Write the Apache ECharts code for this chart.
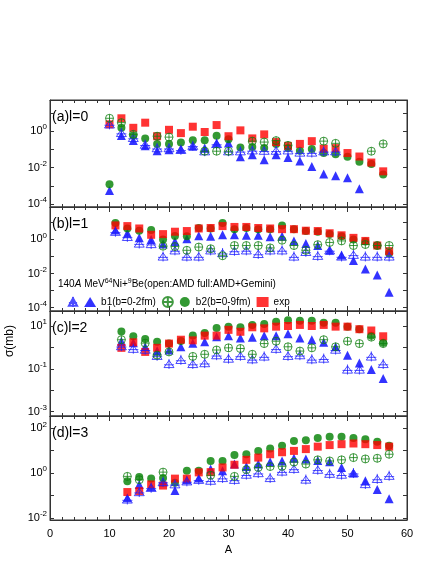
<!DOCTYPE html>
<html>
<head>
<meta charset="utf-8">
<script src="https://cdn.jsdelivr.net/npm/echarts@6/dist/echarts.min.js"></script>
<style>
  html, body { margin: 0; padding: 0; background: #fff; }
  #main { width: 436px; height: 564px; }
</style>
</head>
<body>
<div id="main"></div>
<script>
// values are log10(sigma / mb)
var massA0 = [10, 12, 14, 16, 18, 20, 22, 24, 26, 28, 30, 32, 34, 36, 38, 40, 42, 44, 46, 48, 50, 52, 54, 56];
var amdB1_0 = [0.37, -0.1, -0.37, -0.74, -0.93, -0.93, -1.02, -0.8, -1.1, -0.7, -1.1, -1.1, -1.05, -1.07, -1.07, -1.05, -1.17, -1.17, -1.1, -1.1, null, null, null, null];
var gemB1_0 = [-3.25, -0.24, -0.52, -0.8, -1.07, -1.02, -0.98, -0.83, -0.93, -0.65, -0.65, -1.4, -1.3, -1.57, -1.3, -1.45, -1.63, -1.94, -2.35, -2.44, -2.55, -3.15, null, null];
var amdB2_0 = [0.7, 0.46, -0.18, null, -0.28, -0.33, null, null, -1.1, -1.1, -1.1, null, -0.55, -0.6, -0.52, -0.78, null, null, -0.55, -0.67, null, null, -1.1, -0.7];
var gemB2_0 = [-2.9, 0.18, -0.24, -0.4, -0.7, -0.7, -0.63, -0.5, -0.5, -0.26, -0.45, -0.9, -0.87, -0.93, -0.7, -0.93, -1.07, -0.98, -1.2, -1.26, -1.4, -1.67, -1.8, -2.37];
var exp_0 = [0.37, 0.7, 0.18, 0.46, -0.28, 0.07, -0.11, 0.24, -0.05, 0.33, -0.28, 0.04, -0.4, -0.18, -0.6, -0.81, -0.7, -0.55, -0.96, -0.93, -1.2, -1.39, -1.72, -2.2];

var massA1 = [11, 13, 15, 17, 19, 21, 23, 25, 27, 29, 31, 33, 35, 37, 39, 41, 43, 45, 47, 49, 51, 53, 55, 57];
var amdB1_1 = [0.45, 0.15, -0.24, -0.27, -1.0, -0.64, -1.0, -1.0, -0.64, -0.8, -0.67, -0.64, -0.85, -0.64, -0.64, -1.0, -0.73, -0.96, -0.64, -1.0, -0.9, -1.0, -1.0, -1.0];
var gemB1_1 = [0.55, 0.36, 0.09, 0.0, -0.27, -0.13, 0.04, 0.22, 0.18, 0.27, 0.27, 0.24, 0.24, 0.15, 0.18, -0.09, -0.24, -0.36, -0.64, -0.91, -1.24, -1.73, -2.09, -3.1];
var amdB2_1 = [null, null, null, null, -0.4, -0.42, -0.64, -0.45, -0.55, -0.96, -0.36, -0.36, -0.36, -0.5, -0.05, -0.36, -0.64, -0.31, -0.18, -0.09, -0.36, -0.3, -0.36, -0.36];
var gemB2_1 = [0.96, 0.64, 0.5, 0.55, 0.0, 0.2, 0.18, 0.67, 0.64, 0.96, 0.6, 0.67, 0.6, 0.6, 0.82, 0.6, 0.49, 0.45, 0.31, 0.18, 0.0, -0.13, -0.36, -0.82];
var exp_1 = [0.82, 0.78, 0.64, 0.27, 0.31, 0.45, 0.49, 0.64, 0.67, 0.78, 0.73, 0.73, 0.67, 0.64, 0.6, 0.6, 0.51, 0.49, 0.36, 0.24, 0.09, -0.09, -0.36, -0.69];

var massA2 = [12, 14, 16, 18, 20, 22, 24, 26, 28, 30, 32, 34, 36, 38, 40, 42, 44, 46, 48, 50, 52, 54, 56];
var amdB1_2 = [0.06, -0.06, -0.1, -0.39, -0.77, -0.58, -0.77, -0.73, -0.36, -0.52, -0.39, -0.55, -0.42, -0.06, -0.39, -0.36, -0.55, -0.52, -0.1, -1.03, -1.03, -0.42, -0.77];
var gemB1_2 = [0.29, 0.22, 0.03, -0.15, -0.12, 0.03, 0.2, 0.26, 0.5, 0.55, 0.44, 0.48, 0.55, 0.55, 0.64, 0.44, 0.36, 0.24, 0.03, -0.36, -0.73, -1.03, -1.45];
var amdB2_2 = [0.36, null, 0.2, -0.36, -0.21, null, -0.42, -0.32, -0.12, -0.02, -0.05, -0.32, 0.18, 0.29, 0.03, -0.17, -0.02, 0.36, 0.03, 0.29, 0.18, 0.48, 0.18];
var gemB2_2 = [0.74, 0.52, 0.39, 0.26, 0.18, 0.3, 0.56, 0.67, 0.91, 0.97, 0.94, 1.05, 1.09, 1.2, 1.27, 1.24, 1.24, 1.15, 1.15, 0.97, 0.85, 0.55, 0.22];
var exp_2 = [-0.02, 0.24, -0.21, -0.02, 0.18, 0.36, 0.33, 0.55, 0.55, 0.82, 0.73, 0.94, 0.89, 0.97, 1.0, 1.05, 1.0, 1.05, 0.97, 0.97, 0.85, 0.79, 0.52];

var massA3 = [13, 15, 17, 19, 21, 23, 25, 27, 29, 31, 33, 35, 37, 39, 41, 43, 45, 47, 49, 51, 53, 55, 57];
var amdB1_3 = [-1.18, -0.85, -0.66, -0.4, -0.5, -0.37, -0.3, -0.34, -0.22, -0.3, -0.07, 0.0, -0.22, 0.07, 0.19, -0.29, 0.15, -0.03, -0.07, 0.0, -0.49, -0.26, -0.12];
var gemB1_3 = [-1.1, -0.51, -0.6, -0.4, -0.78, -0.3, -0.22, 0.18, 0.1, 0.4, 0.29, 0.4, 0.51, 0.54, 0.66, 0.63, 0.56, 0.51, 0.25, 0.0, -0.34, -0.74, -1.15];
var amdB2_3 = [-0.15, -0.3, null, 0.04, null, null, null, -0.1, null, -0.15, 0.15, 0.25, 0.29, 0.3, 0.49, 0.4, 0.59, 0.54, 0.59, 0.69, 0.63, 0.66, 0.84];
var gemB2_3 = [-0.37, -0.18, -0.25, -0.22, -0.44, 0.1, 0.1, 0.54, 0.54, 0.81, 0.84, 0.99, 1.1, 1.22, 1.43, 1.47, 1.57, 1.62, 1.62, 1.57, 1.51, 1.4, 1.22];
var exp_3 = [-0.85, -0.81, -0.51, -0.56, -0.25, -0.25, 0.03, 0.04, 0.25, 0.37, 0.59, 0.69, 0.84, 0.93, 0.99, 1.07, 1.18, 1.25, 1.29, 1.32, 1.29, 1.25, 1.18];

var panelLabels = ['(a)l=0', '(b)l=1', '(c)l=2', '(d)l=3'];
var yRanges = [[-4.15, 1.7], [-4.2, 1.9], [-3.2, 1.7], [-2.1, 2.55]];
var yMajors = [[-4, -2, 0], [-4, -2, 0], [-3, -1, 1], [-2, 0, 2]];
var gridTops = [100, 207, 311, 416];
var gridHeights = [107, 104, 105, 104];

var panels = [
  [massA0, amdB1_0, gemB1_0, amdB2_0, gemB2_0, exp_0],
  [massA1, amdB1_1, gemB1_1, amdB2_1, gemB2_1, exp_1],
  [massA2, amdB1_2, gemB1_2, amdB2_2, gemB2_2, exp_2],
  [massA3, amdB1_3, gemB1_3, amdB2_3, gemB2_3, exp_3]
];

var triPlus = 'path://M0,-10 L9,6 L-9,6 Z M0,-13 L0,9 M-9,0 L9,0';
var circPlus = 'path://M10,0 A10,10 0 1,1 -10,0 A10,10 0 1,1 10,0 Z M0,-10 L0,10 M-10,0 L10,0';
var styles = [
  { name: 'amd1', symbol: triPlus, size: 10, item: { color: 'rgba(0,0,0,0)', borderColor: '#1f1fff', borderWidth: 1 } },
  { name: 'b1(b=0-2fm)', symbol: 'triangle', size: 9, item: { color: '#0000ff' } },
  { name: 'amd2', symbol: circPlus, size: 8, item: { color: 'rgba(0,0,0,0)', borderColor: '#108010', borderWidth: 1 } },
  { name: 'b2(b=0-9fm)', symbol: 'circle', size: 8, item: { color: '#008000' } },
  { name: 'exp', symbol: 'rect', size: 8, item: { color: '#ff0000' } }
];

function pairs(xs, ys) {
  var res = [];
  for (var i = 0; i < xs.length; i++) {
    if (ys[i] !== null && ys[i] !== undefined) res.push([xs[i], ys[i]]);
  }
  return res;
}

var grid = [], xAxis = [], yAxis = [], series = [], graphic = [];
for (var p = 0; p < 4; p++) {
  grid.push({ left: 50, right: 29, top: gridTops[p], height: gridHeights[p],
    show: true, borderColor: '#333', borderWidth: 1, backgroundColor: '#fff' });
  var last = p === 3;
  xAxis.push({
    type: 'value', gridIndex: p, min: 0, max: 60, interval: 10, position: 'bottom',
    name: last ? 'A' : '', nameLocation: 'middle', nameGap: 24,
    nameTextStyle: { fontSize: 11, color: '#000', fontFamily: 'Liberation Sans' },
    axisLine: { onZero: false, lineStyle: { color: '#333' } },
    axisTick: { inside: true, length: 5, lineStyle: { color: '#333' } },
    minorTick: { show: true, splitNumber: 5, length: 3, lineStyle: { color: '#333' } },
    axisLabel: { show: last, color: '#000', fontSize: 11, fontFamily: 'Liberation Sans' },
    splitLine: { show: false }
  });
  xAxis.push({
    type: 'value', gridIndex: p, min: 0, max: 60, interval: 10, position: 'top',
    axisLine: { onZero: false, lineStyle: { color: '#333' } },
    axisTick: { inside: true, length: 5, lineStyle: { color: '#333' } },
    minorTick: { show: true, splitNumber: 5, length: 3, lineStyle: { color: '#333' } },
    axisLabel: { show: false }, splitLine: { show: false }
  });
  var decades = [];
  for (var d = Math.ceil(yRanges[p][0]); d <= Math.floor(yRanges[p][1]); d++) decades.push(d);
  yAxis.push({
    type: 'value', gridIndex: p, min: yRanges[p][0], max: yRanges[p][1], position: 'left',
    axisLine: { show: true, onZero: false, lineStyle: { color: '#333' } },
    axisTick: { show: true, inside: true, length: 4, customValues: decades, lineStyle: { color: '#333' } },
    axisLabel: {
      customValues: yMajors[p], color: '#000', margin: 3,
      formatter: function (v) { return '{b|10}{s|' + Math.round(v) + '}'; },
      rich: {
        b: { fontSize: 11, fontFamily: 'Liberation Sans', color: '#000' },
        s: { fontSize: 8, fontFamily: 'Liberation Sans', color: '#000', verticalAlign: 'top', padding: [0, 0, 8, 0] }
      }
    },
    splitLine: { show: false }
  });
  yAxis.push({
    type: 'value', gridIndex: p, min: yRanges[p][0], max: yRanges[p][1], position: 'right',
    axisLine: { show: true, onZero: false, lineStyle: { color: '#333' } },
    axisTick: { show: true, inside: true, length: 4, customValues: decades, lineStyle: { color: '#333' } },
    axisLabel: { show: false }, splitLine: { show: false }
  });
  for (var s = 0; s < 5; s++) {
    series.push({
      name: styles[s].name, type: 'scatter', xAxisIndex: p * 2, yAxisIndex: p * 2,
      symbol: styles[s].symbol, symbolSize: styles[s].size, itemStyle: styles[s].item,
      data: pairs(panels[p][0], panels[p][s + 1]), z: s === 0 || s === 2 ? 3 : 2
    });
  }
  graphic.push({ type: 'text', left: 52, top: gridTops[p] + 10,
    style: { text: panelLabels[p], fontSize: 14, fontFamily: 'Liberation Sans', fill: '#000' } });
}

graphic.push({ type: 'text', left: 58, top: 278,
  style: {
    text: '{n|140}{i|A}{n| MeV}{s|64}{n|Ni+}{s|9}{n|Be(open:AMD full:AMD+Gemini)}',
    rich: {
      n: { fontSize: 10, fontFamily: 'Liberation Sans', fill: '#000' },
      i: { fontSize: 10, fontFamily: 'Liberation Sans', fontStyle: 'italic', fill: '#000' },
      s: { fontSize: 7, fontFamily: 'Liberation Sans', fill: '#000', verticalAlign: 'top', padding: [0, 0, 6, 0] }
    }
  } });
graphic.push({ type: 'text', left: 4, top: 325, rotation: Math.PI / 2,
  style: { text: 'σ(mb)', fontSize: 12, fontFamily: 'Liberation Sans', fill: '#000' } });

var myChart = echarts.init(document.getElementById('main'));
myChart.setOption({
  animation: false,
  grid: grid, xAxis: xAxis, yAxis: yAxis, series: series, graphic: graphic,
  legend: {
    left: 62, top: 291, itemGap: 6, itemWidth: 12, itemHeight: 10,
    data: styles.map(function (st) { return st.name; }),
    formatter: function (n) { return n.indexOf('amd') === 0 ? '' : n; },
    textStyle: { fontSize: 10, fontFamily: 'Liberation Sans', color: '#000', padding: [0, 4, 0, 0] }
  }
});
window.addEventListener('resize', function () { myChart.resize(); });
</script>
</body>
</html>
